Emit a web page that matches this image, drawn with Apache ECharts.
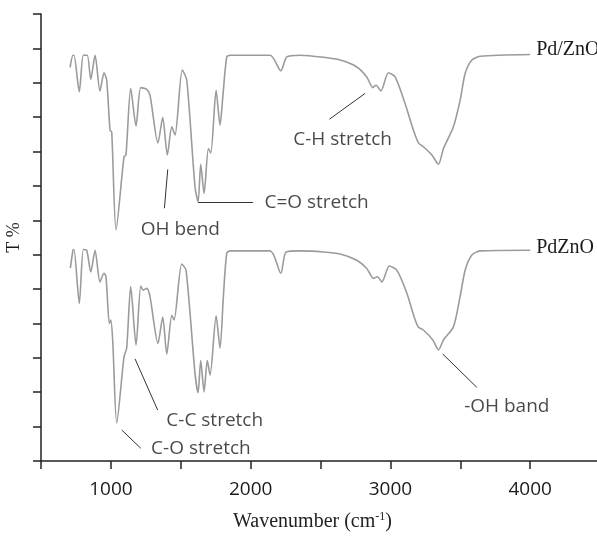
<!DOCTYPE html>
<html>
<head>
<meta charset="utf-8">
<title>FTIR spectra</title>
<script src="https://cdn.jsdelivr.net/npm/echarts@6/dist/echarts.min.js"></script>
<style>
  html, body { margin: 0; padding: 0; background: #fff; }
  #chart { width: 597px; height: 536px; }
</style>
</head>
<body>
<div id="chart"></div>
<script>
// Pd/ZnO spectrum (upper trace), wavenumber in cm-1 and T % in arbitrary units
const pdSlashWave = [708, 729, 736, 774, 803, 831, 856, 887, 922, 951, 970, 994, 1006, 1037, 1094, 1108, 1142, 1180, 1214, 1257, 1280, 1337, 1371, 1404, 1436, 1459, 1511, 1543, 1602, 1624, 1643, 1667, 1698, 1715, 1753, 1781, 1801, 1829, 1853, 2139, 2216, 2259, 2354, 2521, 2640, 2760, 2831, 2874, 2898, 2932, 2986, 3034, 3105, 3165, 3201, 3236, 3297, 3344, 3380, 3451, 3499, 3535, 3583, 3642, 4000]
const pdSlashT = [11.45, 11.80, 11.80, 10.74, 11.80, 11.80, 11.10, 11.80, 10.76, 11.29, 11.08, 9.62, 9.57, 6.72, 8.85, 8.90, 10.83, 9.74, 10.86, 10.81, 10.64, 9.25, 9.99, 8.90, 9.72, 9.48, 11.37, 11.08, 7.97, 7.54, 8.63, 7.78, 9.09, 8.96, 10.78, 9.77, 10.59, 11.75, 11.80, 11.80, 11.35, 11.75, 11.80, 11.74, 11.66, 11.46, 11.17, 10.86, 10.93, 10.76, 11.29, 11.17, 10.40, 9.62, 9.25, 9.14, 8.90, 8.63, 9.09, 9.72, 10.49, 11.27, 11.66, 11.77, 11.82]

// PdZnO spectrum (lower trace)
const pdZnOWave = [710, 729, 736, 774, 803, 827, 856, 887, 922, 951, 965, 989, 999, 1013, 1042, 1094, 1113, 1142, 1180, 1214, 1232, 1257, 1280, 1337, 1371, 1400, 1436, 1452, 1507, 1538, 1602, 1624, 1643, 1667, 1690, 1710, 1753, 1781, 1805, 1829, 1853, 2139, 2216, 2254, 2354, 2521, 2640, 2760, 2831, 2879, 2907, 2939, 2993, 3046, 3118, 3170, 3201, 3236, 3304, 3344, 3380, 3451, 3499, 3535, 3583, 3642, 4000]
const pdZnOT = [5.61, 6.13, 6.15, 4.58, 6.15, 6.13, 5.50, 6.13, 5.21, 5.46, 5.36, 4.00, 4.10, 3.52, 1.10, 3.03, 3.28, 5.07, 3.37, 5.09, 4.97, 5.02, 4.78, 3.42, 4.19, 3.11, 4.24, 4.10, 5.73, 5.55, 2.55, 1.99, 2.92, 2.01, 2.92, 2.50, 4.22, 3.28, 4.78, 6.04, 6.11, 6.11, 5.46, 6.08, 6.11, 6.08, 6.02, 5.84, 5.60, 5.31, 5.36, 5.21, 5.67, 5.55, 4.88, 4.19, 3.89, 3.81, 3.52, 3.23, 3.52, 3.90, 4.78, 5.55, 5.99, 6.11, 6.13]

// band annotations: text and its centre, then the leader line ends
const noteText = ['C-H stretch', 'C=O stretch', 'OH bend', 'C-C stretch', 'C-O stretch', '-OH band']
const noteWave = [2658, 2472, 1497, 1743, 1644, 3833]
const noteT = [9.35, 7.52, 6.73, 1.17, 0.37, 1.58]
const leaderFrom = [[2564, 9.94], [1624, 7.53], [1407, 8.48], [1173, 2.97], [1078, 0.90], [3375, 3.11]]
const leaderTo = [[2819, 10.69], [2018, 7.53], [1383, 7.35], [1335, 1.48], [1214, 0.37], [3619, 2.14]]

const xTicks = [1000, 2000, 3000, 4000]

const sansFont = '"Open Sans", "Noto Sans", sans-serif'
const serifFont = '"Liberation Serif", "DejaVu Serif", serif'
const traceColor = '#9b9b9b'

function zipPairs(xs, ys) {
  return xs.map((x, i) => [x, ys[i]])
}

const chart = echarts.init(document.getElementById('chart'))

chart.setOption({
  animation: false,
  backgroundColor: '#fff',
  grid: {
    left: 41,
    right: -3,
    top: 14,
    bottom: 75,
    // keep the plot box where it is, labels may run off the edge
    outerBoundsMode: 'none'
  },
  xAxis: {
    type: 'value',
    min: 500,
    max: 4500,
    interval: 500,
    name: 'Wavenumber (cm{sup|-1})',
    nameLocation: 'middle',
    nameGap: 50,
    nameTextStyle: {
      fontFamily: serifFont,
      fontSize: 20,
      color: '#222',
      padding: [0, 16, 0, 0],
      rich: {
        sup: { fontFamily: serifFont, fontSize: 12, color: '#222', verticalAlign: 'top', padding: [0, 0, 9, 0] }
      }
    },
    axisLine: { lineStyle: { color: '#222', width: 1.5 } },
    axisTick: { inside: false, length: 8, lineStyle: { color: '#222', width: 1.5 } },
    axisLabel: {
      margin: 19,
      fontFamily: sansFont,
      fontSize: 19,
      color: '#1a1a1a',
      formatter: v => xTicks.indexOf(v) >= 0 ? String(v) : ''
    },
    splitLine: { show: false }
  },
  yAxis: {
    type: 'value',
    min: 0,
    max: 13,
    interval: 1,
    name: 'T %',
    nameLocation: 'middle',
    nameGap: 18,
    nameTextStyle: { fontFamily: serifFont, fontSize: 18, color: '#1a1a1a' },
    axisLine: { show: true, lineStyle: { color: '#222', width: 1.5 } },
    axisTick: { show: true, inside: false, length: 8, lineStyle: { color: '#222', width: 1.5 } },
    axisLabel: { show: false },
    splitLine: { show: false }
  },
  series: [
    {
      name: 'Pd/ZnO',
      type: 'line',
      data: zipPairs(pdSlashWave, pdSlashT),
      showSymbol: false,
      smooth: 0.25,
      lineStyle: { color: traceColor, width: 1.6 },
      endLabel: {
        show: true,
        formatter: '{a}',
        distance: 6,
        offset: [0, -5],
        fontFamily: serifFont,
        fontSize: 20,
        color: '#1a1a1a'
      },
      // leader lines for the band notes
      markLine: {
        silent: true,
        symbol: 'none',
        label: { show: false },
        lineStyle: { color: '#333', width: 1, type: 'solid' },
        data: leaderFrom.map((p, i) => [{ coord: p }, { coord: leaderTo[i] }])
      }
    },
    {
      name: 'PdZnO',
      type: 'line',
      data: zipPairs(pdZnOWave, pdZnOT),
      showSymbol: false,
      smooth: 0.25,
      lineStyle: { color: traceColor, width: 1.6 },
      endLabel: {
        show: true,
        formatter: '{a}',
        distance: 6,
        offset: [0, -2],
        fontFamily: serifFont,
        fontSize: 20,
        color: '#1a1a1a'
      }
    },
    {
      name: 'notes',
      type: 'scatter',
      symbolSize: 0,
      silent: true,
      data: noteText.map((t, i) => ({ name: t, value: [noteWave[i], noteT[i]] })),
      label: {
        show: true,
        position: 'inside',
        formatter: '{b}',
        fontFamily: sansFont,
        fontSize: 19,
        color: '#1a1a1a'
      }
    }
  ]
})
</script>
</body>
</html>
